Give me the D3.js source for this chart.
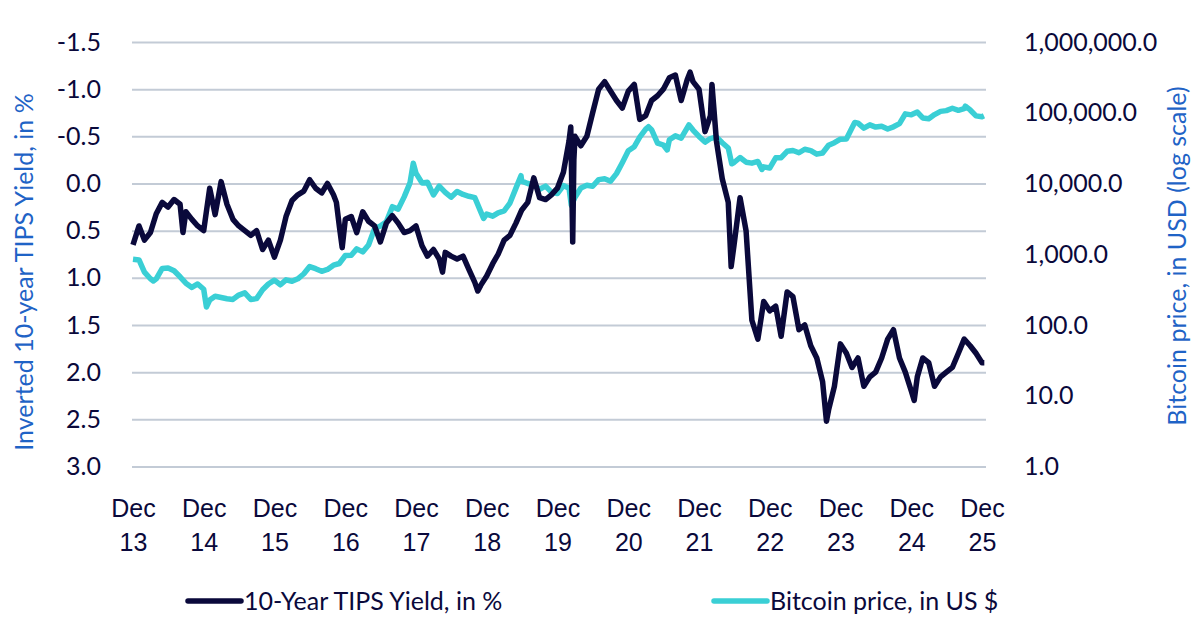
<!DOCTYPE html>
<html>
<head>
<meta charset="utf-8">
<script src="https://cdn.jsdelivr.net/npm/d3@7"></script>
<style>
  body { margin: 0; background: #fff; }
  svg { font-family: "Lato", "Open Sans", sans-serif; }
</style>
</head>
<body>
<div id="chart"></div>
<script>
// 10-year TIPS yield, in % (plotted on an inverted axis)
const tips = [
  ["2013-12-31", 0.65], ["2014-01-31", 0.45], ["2014-02-28", 0.6], ["2014-03-31", 0.52],
  ["2014-04-30", 0.32], ["2014-05-31", 0.2], ["2014-06-30", 0.25], ["2014-07-31", 0.17],
  ["2014-08-31", 0.22], ["2014-09-15", 0.52], ["2014-09-30", 0.3], ["2014-10-31", 0.38],
  ["2014-11-30", 0.45], ["2014-12-31", 0.5], ["2015-01-31", 0.05], ["2015-02-28", 0.33],
  ["2015-03-31", -0.02], ["2015-04-30", 0.22], ["2015-05-31", 0.38], ["2015-06-30", 0.45],
  ["2015-07-31", 0.5], ["2015-08-31", 0.55], ["2015-09-30", 0.5], ["2015-10-31", 0.7],
  ["2015-11-30", 0.6], ["2015-12-31", 0.78], ["2016-01-31", 0.6], ["2016-02-29", 0.35],
  ["2016-03-31", 0.18], ["2016-04-30", 0.12], ["2016-05-31", 0.08], ["2016-06-30", -0.04],
  ["2016-07-31", 0.05], ["2016-08-31", 0.1], ["2016-09-30", 0.0], ["2016-10-31", 0.12],
  ["2016-11-15", 0.2], ["2016-11-30", 0.45], ["2016-12-15", 0.68], ["2016-12-31", 0.38],
  ["2017-01-31", 0.35], ["2017-02-28", 0.52], ["2017-03-31", 0.3], ["2017-04-30", 0.4],
  ["2017-05-31", 0.45], ["2017-06-30", 0.62], ["2017-07-31", 0.42], ["2017-08-31", 0.34],
  ["2017-09-30", 0.42], ["2017-10-31", 0.52], ["2017-11-30", 0.5], ["2017-12-31", 0.45],
  ["2018-01-31", 0.66], ["2018-02-28", 0.77], ["2018-03-31", 0.7], ["2018-04-30", 0.8],
  ["2018-05-17", 0.94], ["2018-05-31", 0.73], ["2018-06-30", 0.77], ["2018-07-31", 0.8],
  ["2018-08-31", 0.77], ["2018-09-30", 0.91], ["2018-10-31", 1.05], ["2018-11-15", 1.14],
  ["2018-11-30", 1.08], ["2018-12-31", 0.98], ["2019-01-31", 0.85], ["2019-02-28", 0.75],
  ["2019-03-31", 0.6], ["2019-04-30", 0.55], ["2019-05-31", 0.42], ["2019-06-30", 0.28],
  ["2019-07-31", 0.2], ["2019-08-31", -0.06], ["2019-09-30", 0.15], ["2019-10-31", 0.17],
  ["2019-11-30", 0.12], ["2019-12-31", 0.05], ["2020-01-31", -0.12], ["2020-02-29", -0.45],
  ["2020-03-09", -0.6], ["2020-03-19", 0.62], ["2020-03-25", -0.25], ["2020-03-31", -0.5],
  ["2020-04-30", -0.4], ["2020-05-31", -0.5], ["2020-06-30", -0.75], ["2020-07-31", -1.0],
  ["2020-08-31", -1.08], ["2020-09-30", -0.98], ["2020-10-31", -0.88], ["2020-11-30", -0.8],
  ["2020-12-31", -0.98], ["2021-01-31", -1.05], ["2021-02-28", -0.68], ["2021-03-31", -0.72],
  ["2021-04-30", -0.88], ["2021-05-31", -0.93], ["2021-06-30", -1.0], ["2021-07-31", -1.12],
  ["2021-08-31", -1.15], ["2021-09-30", -0.88], ["2021-10-31", -1.1], ["2021-11-15", -1.18],
  ["2021-11-30", -1.08], ["2021-12-31", -1.0], ["2022-01-31", -0.55], ["2022-02-28", -0.72],
  ["2022-03-08", -1.05], ["2022-03-31", -0.45], ["2022-04-30", -0.05], ["2022-05-31", 0.2],
  ["2022-06-15", 0.88], ["2022-06-30", 0.65], ["2022-07-31", 0.15], ["2022-08-31", 0.5],
  ["2022-09-30", 1.45], ["2022-10-31", 1.65], ["2022-11-30", 1.25], ["2022-12-31", 1.35],
  ["2023-01-31", 1.3], ["2023-02-28", 1.62], ["2023-03-31", 1.15], ["2023-04-30", 1.2],
  ["2023-05-31", 1.55], ["2023-06-30", 1.5], ["2023-07-31", 1.72], ["2023-08-31", 1.85],
  ["2023-09-30", 2.1], ["2023-10-20", 2.52], ["2023-10-31", 2.4], ["2023-11-30", 2.15],
  ["2023-12-31", 1.7], ["2024-01-31", 1.8], ["2024-02-29", 1.95], ["2024-03-31", 1.85],
  ["2024-04-30", 2.15], ["2024-05-31", 2.05], ["2024-06-30", 2.0], ["2024-07-31", 1.85],
  ["2024-08-31", 1.65], ["2024-09-30", 1.55], ["2024-10-31", 1.85], ["2024-11-30", 2.0],
  ["2024-12-31", 2.2], ["2025-01-15", 2.3], ["2025-01-31", 2.05], ["2025-02-28", 1.85],
  ["2025-03-31", 1.9], ["2025-04-30", 2.15], ["2025-05-31", 2.05], ["2025-06-30", 2.0],
  ["2025-07-31", 1.95], ["2025-08-31", 1.8], ["2025-09-30", 1.65], ["2025-10-31", 1.72],
  ["2025-11-30", 1.8], ["2025-12-31", 1.9], ["2026-01-12", 1.9]
];

// Bitcoin price, in USD
const bitcoin = [
  ["2013-12-31", 850], ["2014-01-31", 830], ["2014-02-28", 560], ["2014-03-31", 450],
  ["2014-04-15", 420], ["2014-04-30", 450], ["2014-05-31", 630], ["2014-06-30", 640],
  ["2014-07-31", 585], ["2014-08-31", 480], ["2014-09-30", 390], ["2014-10-31", 340],
  ["2014-11-30", 380], ["2014-12-31", 320], ["2015-01-14", 180], ["2015-01-31", 225],
  ["2015-02-28", 255], ["2015-03-31", 245], ["2015-04-30", 235], ["2015-05-31", 230],
  ["2015-06-30", 265], ["2015-07-31", 285], ["2015-08-31", 230], ["2015-09-30", 236],
  ["2015-10-31", 315], ["2015-11-30", 380], ["2015-12-31", 430], ["2016-01-31", 370],
  ["2016-02-29", 435], ["2016-03-31", 415], ["2016-04-30", 450], ["2016-05-31", 530],
  ["2016-06-30", 670], ["2016-07-31", 625], ["2016-08-31", 575], ["2016-09-30", 610],
  ["2016-10-31", 700], ["2016-11-30", 740], ["2016-12-31", 960], ["2017-01-31", 970],
  ["2017-02-28", 1190], ["2017-03-31", 1080], ["2017-04-30", 1350], ["2017-05-31", 2300],
  ["2017-06-30", 2500], ["2017-07-31", 2870], ["2017-08-31", 4700], ["2017-09-30", 4340],
  ["2017-10-31", 6470], ["2017-11-30", 10200], ["2017-12-17", 19300], ["2017-12-31", 14000],
  ["2018-01-31", 10200], ["2018-02-28", 10400], ["2018-03-31", 6900], ["2018-04-30", 9200],
  ["2018-05-31", 7500], ["2018-06-30", 6400], ["2018-07-31", 7700], ["2018-08-31", 7000],
  ["2018-09-30", 6600], ["2018-10-31", 6300], ["2018-11-30", 4000], ["2018-12-15", 3200],
  ["2018-12-31", 3700], ["2019-01-31", 3450], ["2019-02-28", 3850], ["2019-03-31", 4100],
  ["2019-04-30", 5300], ["2019-05-31", 8600], ["2019-06-26", 12900], ["2019-06-30", 10800],
  ["2019-07-31", 10000], ["2019-08-31", 9600], ["2019-09-30", 8300], ["2019-10-31", 9200],
  ["2019-11-30", 7550], ["2019-12-31", 7200], ["2020-01-31", 9350], ["2020-02-29", 8600],
  ["2020-03-12", 4900], ["2020-03-31", 6400], ["2020-04-30", 8650], ["2020-05-31", 9450],
  ["2020-06-30", 9140], ["2020-07-31", 11350], ["2020-08-31", 11650], ["2020-09-30", 10780],
  ["2020-10-31", 13800], ["2020-11-30", 19700], ["2020-12-31", 29000], ["2021-01-31", 33100],
  ["2021-02-28", 45200], ["2021-03-31", 58800], ["2021-04-14", 63500], ["2021-04-30", 57700],
  ["2021-05-31", 37300], ["2021-06-30", 35000], ["2021-07-20", 29800], ["2021-07-31", 41500],
  ["2021-08-31", 47100], ["2021-09-30", 43800], ["2021-10-31", 61300], ["2021-11-09", 67500],
  ["2021-11-30", 57000], ["2021-12-31", 46300], ["2022-01-31", 38500], ["2022-02-28", 43200],
  ["2022-03-31", 45500], ["2022-04-30", 37700], ["2022-05-31", 31800], ["2022-06-18", 19000],
  ["2022-06-30", 19800], ["2022-07-31", 23300], ["2022-08-31", 20000], ["2022-09-30", 19400],
  ["2022-10-31", 20500], ["2022-11-21", 15800], ["2022-11-30", 17200], ["2022-12-31", 16550],
  ["2023-01-31", 23100], ["2023-02-28", 23150], ["2023-03-31", 28500], ["2023-04-30", 29300],
  ["2023-05-31", 27200], ["2023-06-30", 30500], ["2023-07-31", 29200], ["2023-08-31", 26000],
  ["2023-09-30", 27000], ["2023-10-31", 34700], ["2023-11-30", 37700], ["2023-12-31", 42300],
  ["2024-01-31", 42600], ["2024-02-29", 61200], ["2024-03-14", 73000], ["2024-03-31", 71300],
  ["2024-04-30", 60600], ["2024-05-31", 67500], ["2024-06-30", 62700], ["2024-07-31", 64600],
  ["2024-08-31", 59000], ["2024-09-30", 63300], ["2024-10-31", 70200], ["2024-11-30", 96400],
  ["2024-12-31", 93400], ["2025-01-31", 102400], ["2025-02-28", 84400], ["2025-03-31", 82500],
  ["2025-04-30", 94200], ["2025-05-31", 104600], ["2025-06-30", 107100], ["2025-07-31", 115800],
  ["2025-08-31", 108200], ["2025-09-30", 114000], ["2025-10-06", 124000], ["2025-10-31", 109500],
  ["2025-11-30", 90400], ["2025-12-31", 88000], ["2026-01-10", 90500]
];

const tipsTicks = [-1.5, -1.0, -0.5, 0.0, 0.5, 1.0, 1.5, 2.0, 2.5, 3.0];
const btcTicks = [1, 10, 100, 1000, 10000, 100000, 1000000];
const yearTicks = ["2013-12-31", "2014-12-31", "2015-12-31", "2016-12-31", "2017-12-31",
  "2018-12-31", "2019-12-31", "2020-12-31", "2021-12-31", "2022-12-31", "2023-12-31",
  "2024-12-31", "2025-12-31"];
const seriesNames = ["10-Year TIPS Yield, in %", "Bitcoin price, in US $"];

const navy = "#0a093b";
const teal = "#3acfd5";
const blue = "#1f63c6";
const fontSize = "25px";

const width = 1200, height = 628;
const plotLeft = 132, plotRight = 986, plotTop = 42, plotBottom = 466.5;

const parse = d3.timeParse("%Y-%m-%d");
const fmtLeft = d => d3.format(".1f")(d).replace("\u2212", "-");

const svg = d3.select("#chart").append("svg")
  .attr("width", width)
  .attr("height", height);

const x = d3.scaleTime()
  .domain([parse("2013-12-31"), parse("2025-12-31")])
  .range([133, 982]);

const yLeft = d3.scaleLinear()
  .domain([3, -1.5])
  .range([plotBottom, plotTop]);

const yRight = d3.scaleLog()
  .domain([1, 1000000])
  .range([plotBottom, plotTop]);

// gridlines
svg.append("g")
  .attr("transform", `translate(${plotLeft},0)`)
  .call(d3.axisLeft(yLeft).tickValues(tipsTicks).tickSize(-(plotRight - plotLeft)).tickFormat(""))
  .call(g => g.select(".domain").remove())
  .call(g => g.selectAll("line").attr("stroke", "#c3cbd6").attr("stroke-width", 2));

// left axis labels
svg.append("g")
  .attr("transform", "translate(104,0)")
  .call(d3.axisLeft(yLeft).tickValues(tipsTicks).tickSize(0).tickFormat(fmtLeft))
  .call(g => g.select(".domain").remove())
  .call(g => g.selectAll("text")
    .attr("fill", navy)
    .style("font-size", fontSize)
    .style("font-family", "Lato, sans-serif"));

// right axis labels
svg.append("g")
  .attr("transform", "translate(1021,0)")
  .call(d3.axisRight(yRight).tickValues(btcTicks).tickSize(0).tickFormat(d3.format(",.1f")))
  .call(g => g.select(".domain").remove())
  .call(g => g.selectAll("text")
    .attr("fill", navy)
    .style("font-size", fontSize)
    .style("font-family", "Lato, sans-serif"));

// x axis, two-line labels
const xAxis = svg.append("g")
  .attr("transform", `translate(0,${plotBottom})`)
  .call(d3.axisBottom(x).tickValues(yearTicks.map(parse)).tickSize(0).tickFormat(""))
  .call(g => g.select(".domain").remove());

xAxis.selectAll(".tick text").remove();
xAxis.selectAll(".tick").append("text")
  .attr("text-anchor", "middle")
  .attr("fill", navy)
  .style("font-size", fontSize)
  .selectAll("tspan")
  .data(d => ["Dec", d3.timeFormat("%y")(d)])
  .join("tspan")
  .attr("x", 0)
  .attr("y", (d, i) => 50 + i * 34)
  .text(d => d);

// series
const tipsLine = d3.line()
  .x(d => x(parse(d[0])))
  .y(d => yLeft(d[1]));

const btcLine = d3.line()
  .x(d => x(parse(d[0])))
  .y(d => yRight(d[1]));

svg.append("path")
  .datum(bitcoin)
  .attr("fill", "none")
  .attr("stroke", teal)
  .attr("stroke-width", 5.5)
  .attr("stroke-linejoin", "round")
  .attr("d", btcLine);

svg.append("path")
  .datum(tips)
  .attr("fill", "none")
  .attr("stroke", navy)
  .attr("stroke-width", 5.5)
  .attr("stroke-linejoin", "round")
  .attr("d", tipsLine);

// axis titles
svg.append("text")
  .attr("transform", "translate(33,272) rotate(-90)")
  .attr("text-anchor", "middle")
  .attr("fill", blue)
  .style("font-size", fontSize)
  .text("Inverted 10-year TIPS Yield, in %");

svg.append("text")
  .attr("transform", "translate(1186,256) rotate(-90)")
  .attr("text-anchor", "middle")
  .attr("fill", blue)
  .style("font-size", fontSize)
  .text("Bitcoin price, in USD (log scale)");

// legend
const legend = svg.append("g").attr("transform", "translate(0,601)");
const legendX = [188, 714];
const legendColors = [navy, teal];

seriesNames.forEach((name, i) => {
  legend.append("line")
    .attr("x1", legendX[i])
    .attr("x2", legendX[i] + 53)
    .attr("stroke", legendColors[i])
    .attr("stroke-width", 5.5)
    .attr("stroke-linecap", "round");
  legend.append("text")
    .attr("x", legendX[i] + 56)
    .attr("dy", "0.35em")
    .attr("fill", navy)
    .style("font-size", fontSize)
    .text(name);
});
</script>
</body>
</html>
